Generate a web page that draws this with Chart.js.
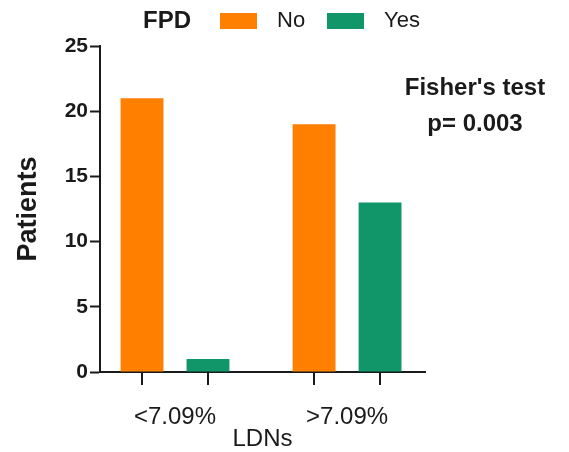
<!DOCTYPE html>
<html>
<head>
<meta charset="utf-8">
<script src="https://cdn.jsdelivr.net/npm/chart.js@4.4.1/dist/chart.umd.min.js"></script>
<style>
  body { margin: 0; background: #fff; }
</style>
</head>
<body>
<canvas id="chart" width="569" height="452"></canvas>
<script>
const categories = ["<7.09%", ">7.09%"];
const seriesNames = ["No", "Yes"];
const noValues = [21, 19];
const yesValues = [1, 13];
const yTicks = [0, 5, 10, 15, 20, 25];

const FONT = "'Liberation Sans', Arial, sans-serif";
const INK = "#1a1a1a";
const colors = ["#FF7F00", "#11966A"];

function points(values) {
  return values.map((v, i) => ({ x: i, y: v }));
}

// legend row at the top: "FPD" followed by the two swatches
const legendRow = {
  id: "legendRow",
  afterDraw(chart) {
    const ctx = chart.ctx;
    ctx.save();
    ctx.textBaseline = "middle";
    ctx.fillStyle = INK;
    ctx.font = "bold 24px " + FONT;
    ctx.fillText("FPD", 143, 21);
    let x = 220;
    chart.data.datasets.forEach((ds) => {
      ctx.fillStyle = ds.backgroundColor;
      ctx.fillRect(x, 13, 37, 16);
      ctx.fillStyle = INK;
      ctx.font = "22px " + FONT;
      ctx.fillText(ds.label, x + 57, 21);
      x += 107;
    });
    ctx.restore();
  },
};

// tick marks under each bar, and the test note on the right
const extras = {
  id: "extras",
  afterDatasetsDraw(chart) {
    const ctx = chart.ctx;
    const bottom = chart.chartArea.bottom;
    ctx.save();
    ctx.strokeStyle = INK;
    ctx.lineWidth = 2;
    chart.data.datasets.forEach((ds, i) => {
      chart.getDatasetMeta(i).data.forEach((bar) => {
        ctx.beginPath();
        ctx.moveTo(Math.round(bar.x), bottom);
        ctx.lineTo(Math.round(bar.x), bottom + 13);
        ctx.stroke();
      });
    });
    ctx.fillStyle = INK;
    ctx.font = "bold 24px " + FONT;
    ctx.textAlign = "center";
    ctx.textBaseline = "middle";
    ctx.fillText("Fisher's test", 475, 88);
    ctx.fillText("p= 0.003", 475, 124);
    ctx.restore();
  },
};

new Chart(document.getElementById("chart"), {
  type: "bar",
  data: {
    datasets: [
      {
        label: seriesNames[0],
        data: points(noValues),
        backgroundColor: colors[0],
      },
      {
        label: seriesNames[1],
        data: points(yesValues),
        backgroundColor: colors[1],
      },
    ],
  },
  options: {
    responsive: false,
    animation: false,
    categoryPercentage: 0.767,
    barPercentage: 0.65,
    layout: {
      padding: { top: 46, left: 12, right: 144, bottom: 0 },
    },
    plugins: {
      legend: { display: false },
      tooltip: { enabled: false },
    },
    scales: {
      x: {
        type: "linear",
        offset: false,
        min: -0.436,
        max: 1.453,
        afterBuildTicks: (scale) => {
          scale.ticks = categories.map((c, i) => ({ value: i }));
        },
        afterFit: (scale) => {
          scale.height = 80;
        },
        grid: { display: false, drawTicks: false, offset: false },
        border: { display: true, color: INK, width: 2 },
        ticks: {
          callback: (v) => categories[v],
          color: INK,
          padding: 31,
          maxRotation: 0,
          font: { family: FONT, size: 24 },
        },
        title: {
          display: true,
          text: "LDNs",
          color: INK,
          padding: { top: 0, bottom: -2 },
          font: { family: FONT, size: 24 },
        },
      },
      y: {
        min: 0,
        max: 25,
        afterBuildTicks: (scale) => {
          scale.ticks = yTicks.map((v) => ({ value: v }));
        },
        afterFit: (scale) => {
          scale.width = 88;
        },
        grid: {
          drawOnChartArea: false,
          drawTicks: true,
          tickLength: 10,
          tickWidth: 2,
          tickColor: INK,
        },
        border: { display: true, color: INK, width: 2 },
        ticks: {
          color: INK,
          padding: 2,
          font: { family: FONT, size: 21, weight: "bold" },
        },
        title: {
          display: true,
          text: "Patients",
          color: INK,
          padding: { top: 0, bottom: 0 },
          font: { family: FONT, size: 27, weight: "bold" },
        },
      },
    },
  },
  plugins: [legendRow, extras],
});
</script>
</body>
</html>
